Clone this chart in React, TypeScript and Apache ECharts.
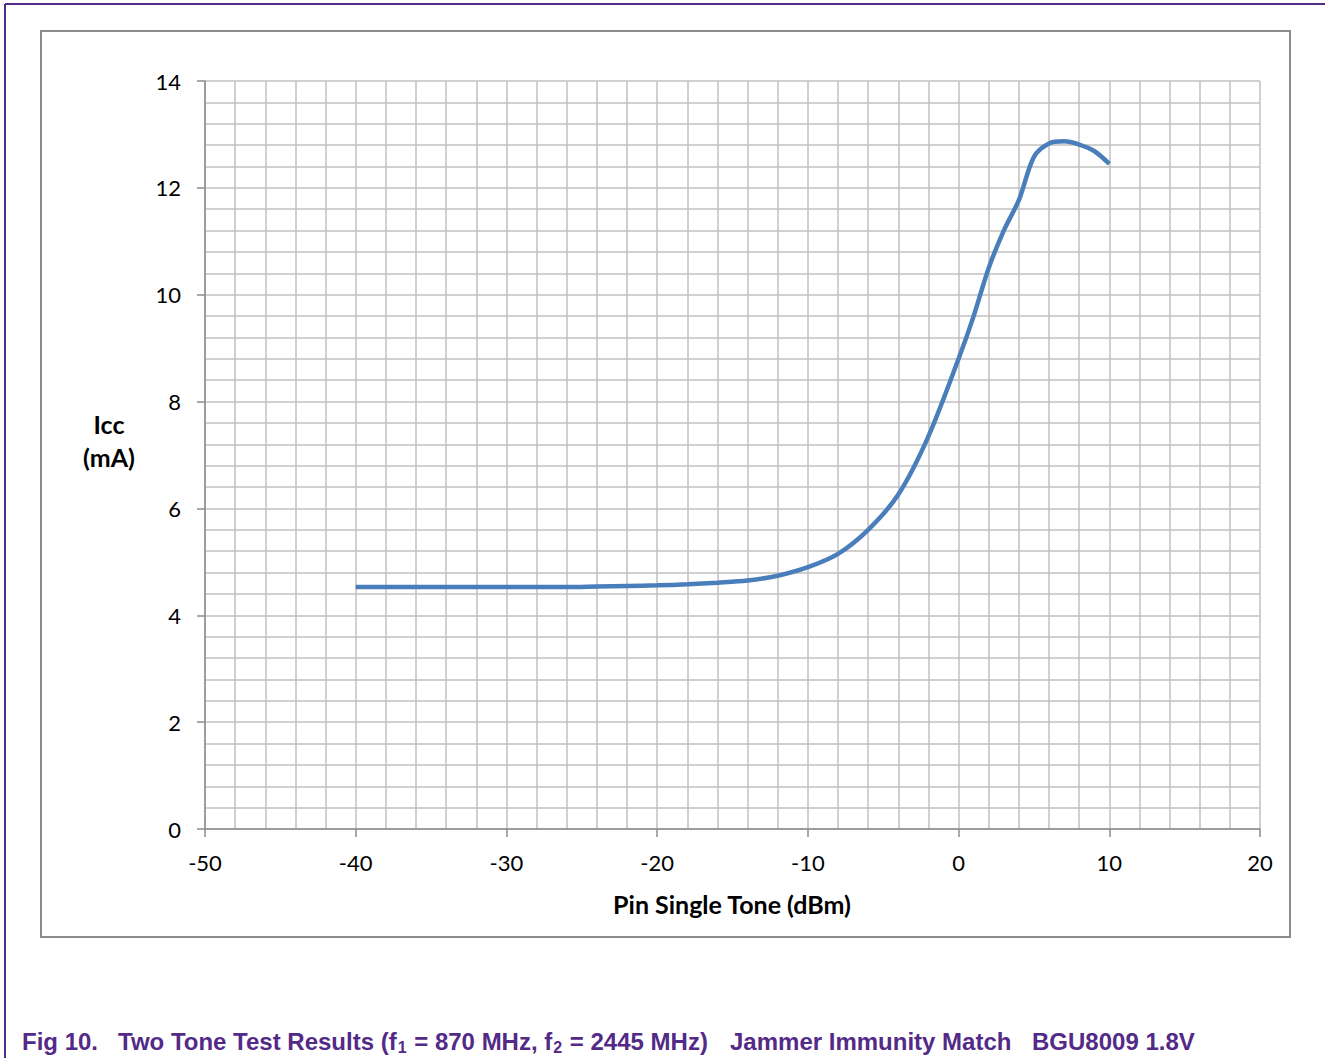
import React, { useEffect, useRef } from "react";
import * as echarts from "echarts";

const pinDbm = [-40, -36, -30, -26, -24, -22, -20, -18, -16, -14, -12, -10, -8, -6, -4, -2, 0, 1, 2, 3, 4, 5, 6, 7, 8, 9, 10];
const iccMa = [4.53, 4.53, 4.53, 4.53, 4.54, 4.55, 4.56, 4.58, 4.61, 4.65, 4.74, 4.9, 5.15, 5.6, 6.26, 7.35, 8.8, 9.6, 10.5, 11.2, 11.77, 12.58, 12.83, 12.87, 12.81, 12.69, 12.45];

const xTicks = { min: -50, max: 20, interval: 10 };
const yTicks = { min: 0, max: 14, interval: 2 };

const captionParts = {
  fig: "Fig 10.",
  title: "Two Tone Test Results (f{sub|1} = 870 MHz, f{sub|2} = 2445 MHz)",
  match: "Jammer Immunity Match",
  part: "BGU8009 1.8V",
};

const PURPLE = "#532a87";
const GRID = "#c0c0c0";
const AXIS = "#8c8c8c";
const LABEL_FONT = "Lato, 'Open Sans', sans-serif";
const CAPTION_FONT = "'Liberation Sans', Arial, sans-serif";

export default function App() {
  const ref = useRef<HTMLDivElement>(null);
  useEffect(() => {
    if (!ref.current) return;
    const chart = echarts.init(ref.current, null, { renderer: "svg" });
    const data = pinDbm.map((x, i) => [x, iccMa[i]]);
    const captionStyle = { fontFamily: CAPTION_FONT, fontWeight: "bold", fontSize: 24, fill: PURPLE };
    chart.setOption({
      animation: false,
      backgroundColor: "#ffffff",
      grid: { left: 205, top: 81, right: 65, bottom: 229, containLabel: false },
      xAxis: {
        type: "value",
        min: xTicks.min,
        max: xTicks.max,
        interval: xTicks.interval,
        axisLine: { show: true, onZero: false, lineStyle: { color: AXIS, width: 1.5 } },
        axisTick: { show: true, length: 8, lineStyle: { color: AXIS, width: 1.5 } },
        axisLabel: { margin: 22, color: "#000", fontSize: 22, fontFamily: LABEL_FONT },
        splitLine: { show: true, lineStyle: { color: GRID, width: 1.5 } },
        minorTick: { show: false, splitNumber: 5 },
        minorSplitLine: { show: true, lineStyle: { color: GRID, width: 1.5 } },
      },
      yAxis: {
        type: "value",
        min: yTicks.min,
        max: yTicks.max,
        interval: yTicks.interval,
        axisLine: { show: true, onZero: false, lineStyle: { color: AXIS, width: 1.5 } },
        axisTick: { show: true, length: 8, lineStyle: { color: AXIS, width: 1.5 } },
        axisLabel: { margin: 24, color: "#000", fontSize: 22, fontFamily: LABEL_FONT },
        splitLine: { show: true, lineStyle: { color: GRID, width: 1.5 } },
        minorTick: { show: false, splitNumber: 5 },
        minorSplitLine: { show: true, lineStyle: { color: GRID, width: 1.5 } },
      },
      series: [
        {
          type: "line",
          data,
          smooth: 0.3,
          showSymbol: false,
          lineStyle: { color: "#4a7ebb", width: 4.5 },
          z: 5,
        },
      ],
      graphic: [
        { type: "line", shape: { x1: 5, y1: 4, x2: 1325, y2: 4 }, style: { stroke: PURPLE, lineWidth: 2 } },
        { type: "line", shape: { x1: 5, y1: 4, x2: 5, y2: 1058 }, style: { stroke: PURPLE, lineWidth: 2 } },
        { type: "rect", shape: { x: 41, y: 31, width: 1249, height: 906 }, style: { fill: "none", stroke: AXIS, lineWidth: 2 } },
        {
          type: "text",
          x: 109,
          y: 440,
          style: {
            text: "Icc\n(mA)",
            fontFamily: LABEL_FONT,
            fontWeight: "bold",
            fontSize: 25,
            lineHeight: 33,
            fill: "#000",
            align: "center",
            verticalAlign: "middle",
          },
        },
        {
          type: "text",
          x: 732,
          y: 904,
          style: {
            text: "Pin Single Tone (dBm)",
            fontFamily: LABEL_FONT,
            fontWeight: "bold",
            fontSize: 25,
            fill: "#000",
            align: "center",
            verticalAlign: "middle",
          },
        },
        { type: "text", x: 22, y: 1041, style: { ...captionStyle, text: captionParts.fig, verticalAlign: "middle" } },
        {
          type: "text",
          x: 118,
          y: 1041,
          style: {
            ...captionStyle,
            text: captionParts.title,
            verticalAlign: "middle",
            rich: {
              sub: { fontFamily: CAPTION_FONT, fontWeight: "bold", fontSize: 16, fill: PURPLE, padding: [12, 1, 0, 1] },
            },
          },
        },
        { type: "text", x: 730, y: 1041, style: { ...captionStyle, text: captionParts.match, verticalAlign: "middle" } },
        { type: "text", x: 1032, y: 1041, style: { ...captionStyle, text: captionParts.part, verticalAlign: "middle" } },
      ],
    });
    return () => chart.dispose();
  }, []);
  return <div ref={ref} style={{ position: "fixed", left: 0, top: 0, width: 1325, height: 1058 }} />;
}
